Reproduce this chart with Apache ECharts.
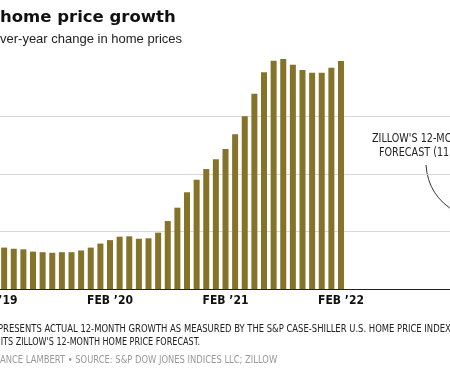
<!DOCTYPE html>
<html>
<head>
<meta charset="utf-8">
<script src="https://cdn.jsdelivr.net/npm/echarts@6/dist/echarts.min.js"></script>
<style>
  html, body { margin: 0; padding: 0; background: #fff; }
  #chart { width: 450px; height: 375px; }
</style>
</head>
<body>
<div id="chart"></div>
<script>
// months shown on the axis (Feb '19 .. Feb '23, the last year is the forecast window)
const months = [
  "2019-02", "2019-03", "2019-04", "2019-05", "2019-06", "2019-07", "2019-08", "2019-09", "2019-10", "2019-11", "2019-12",
  "2020-01", "2020-02", "2020-03", "2020-04", "2020-05", "2020-06", "2020-07", "2020-08", "2020-09", "2020-10", "2020-11", "2020-12",
  "2021-01", "2021-02", "2021-03", "2021-04", "2021-05", "2021-06", "2021-07", "2021-08", "2021-09", "2021-10", "2021-11", "2021-12",
  "2022-01", "2022-02", "2022-03", "2022-04", "2022-05", "2022-06", "2022-07", "2022-08", "2022-09", "2022-10", "2022-11", "2022-12",
  "2023-01", "2023-02"
];

// year-over-year change, S&P Case-Shiller (Feb '19 bar is cut off in the picture)
const actualGrowth = [
  null, 3.6, 3.5, 3.45, 3.25, 3.2, 3.15, 3.2, 3.2, 3.35, 3.6,
  3.95, 4.25, 4.55, 4.58, 4.37, 4.41, 4.9, 5.91, 7.07, 8.41, 9.5, 10.43,
  11.28, 12.17, 13.45, 15.02, 16.98, 18.84, 19.85, 20.0, 19.5, 19.04, 18.81, 18.81,
  19.24, 19.83
];

// Zillow 12-month forecast, lands on the last month (off the right edge)
const forecastGrowth = [11.0];

const tickLabels = { "2019-02": "FEB \u201919", "2020-02": "FEB \u201920", "2021-02": "FEB \u201921", "2022-02": "FEB \u201922" };

const yTicks = [0, 5, 10, 15, 20];

const titleText = "home price growth";
const subtitleText = "ver-year change in home prices";
const noteLines = [
  "PRESENTS ACTUAL 12-MONTH GROWTH AS MEASURED BY THE S&P CASE-SHILLER U.S. HOME PRICE INDEX",
  "ITS ZILLOW'S 12-MONTH HOME PRICE FORECAST."
];
const creditText = "ANCE LAMBERT \u2022 SOURCE: S&P DOW JONES INDICES LLC; ZILLOW";
const calloutLines = ["ZILLOW'S 12-MONTH", "FORECAST (11.0%)"];

const barColor = "#86732a";
const narrow = '"Liberation Sans Narrow", "DejaVu Sans Condensed", sans-serif';

const seriesData = months.map((m, i) => {
  if (i < actualGrowth.length) return actualGrowth[i];
  if (i === months.length - 1) return { value: forecastGrowth[0], itemStyle: { color: "#c8b77a" } };
  return null;
});

const chart = echarts.init(document.getElementById("chart"), null, { renderer: "canvas" });

function note(text, x, y, sx, fill) {
  return {
    type: "text", x: x, y: y, scaleX: sx,
    style: { text: text, font: "10.2px " + narrow, fill: fill, textVerticalAlign: "top" }
  };
}

const option = {
  animation: false,
  backgroundColor: "#fff",
  grid: { left: -10.3, right: -11.3, top: 59, bottom: 86, containLabel: false, outerBoundsMode: "none" },
  xAxis: {
    type: "category",
    data: months,
    axisLine: { show: true, lineStyle: { color: "#222", width: 1 } },
    axisTick: { show: false },
    axisLabel: {
      interval: 0,
      margin: 6,
      color: "#111",
      fontFamily: narrow,
      fontWeight: "bold",
      fontSize: 12,
      formatter: (v) => tickLabels[v] || ""
    }
  },
  yAxis: {
    type: "value",
    min: yTicks[0],
    max: yTicks[yTicks.length - 1],
    interval: 5,
    axisLine: { show: false },
    axisTick: { show: false },
    axisLabel: { show: false },
    splitLine: {
      lineStyle: { color: ["#d8d8d8", "#d8d8d8", "#d8d8d8", "#d8d8d8", "rgba(0,0,0,0)"], width: 1 }
    }
  },
  series: [
    {
      type: "bar",
      data: seriesData,
      barWidth: 6,
      itemStyle: { color: barColor },
      silent: true
    }
  ],
  graphic: [
    { type: "text", left: 0, top: 9, style: { text: titleText, font: 'bold 16.5px "DejaVu Sans"', fill: "#111" } },
    { type: "text", left: 0, top: 33, style: { text: subtitleText, font: '13px "Liberation Sans"', fill: "#222" } },
    { type: "text", x: 372, y: 133, scaleX: 0.93, style: { text: calloutLines[0], font: "11.5px " + narrow, fill: "#222", textVerticalAlign: "top" } },
    { type: "text", x: 379, y: 147, scaleX: 0.93, style: { text: calloutLines[1], font: "11.5px " + narrow, fill: "#222", textVerticalAlign: "top" } },
    {
      type: "bezierCurve",
      shape: { x1: 426, y1: 165, cpx1: 428, cpy1: 196, x2: 456, y2: 212 },
      style: { stroke: "#333", lineWidth: 1, fill: null }
    },
    note(noteLines[0], -2, 324.5, 0.92, "#222"),
    note(noteLines[1], 0.7, 337.5, 0.88, "#222"),
    note(creditText, 0, 355, 0.915, "#999")
  ]
};

chart.setOption(option);
</script>
</body>
</html>
